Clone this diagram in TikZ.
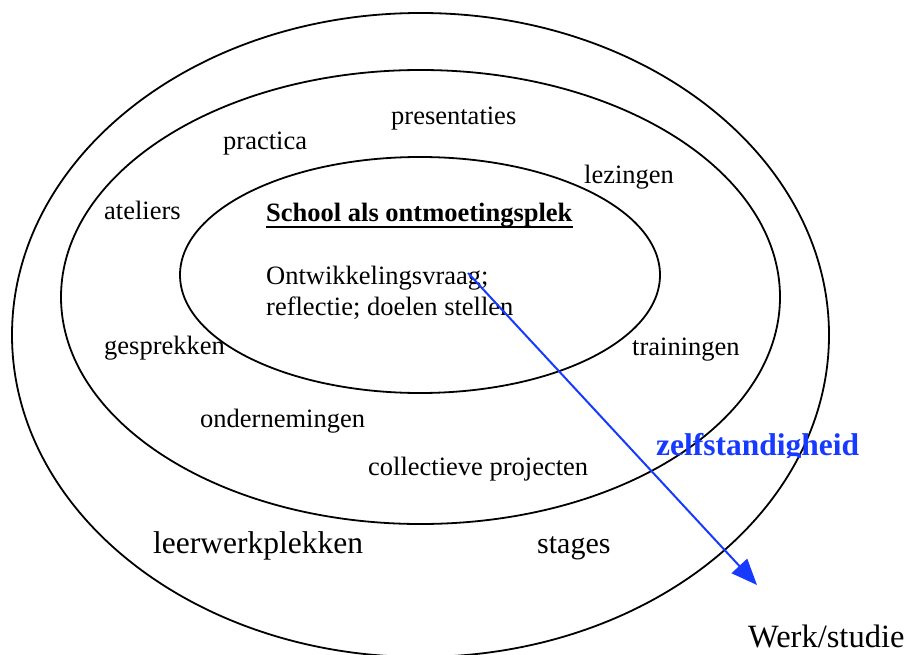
\documentclass[tikz,border=0pt]{standalone}
\usepackage{fontspec}
\setmainfont{Liberation Serif}
\usetikzlibrary{arrows.meta}
\definecolor{arrowblue}{RGB}{22,58,255}
\begin{document}
\begin{tikzpicture}[x=1pt,y=-1pt,
  ring/.style={draw=black,line width=1.8pt},
  lbl/.style={inner sep=0pt,anchor=base west,font=\fontsize{26.5}{27}\selectfont},
  biglbl/.style={inner sep=0pt,anchor=base west,font=\fontsize{31.5}{32}\selectfont},
  growth/.style={draw=arrowblue,line width=2pt,-{Triangle[length=26pt,width=21pt]}}]
\useasboundingbox (0,0) rectangle (910,655);
\clip (0,0) rectangle (910,655);
\fill[white] (0,0) rectangle (910,655);
% ellipses
\draw[ring] (420.5,335) ellipse [x radius=408.5pt, y radius=322pt];
\draw[ring] (420.5,297) ellipse [x radius=359.5pt, y radius=227pt];
\draw[ring] (420,275) ellipse [x radius=240pt, y radius=118pt];
% labels middle ring
\node[lbl] (presentaties) at (391,125) {presentaties};
\node[lbl] (practica) at (223,150) {practica};
\node[lbl] (lezingen) at (584,184) {lezingen};
\node[lbl] (ateliers) at (104,219) {ateliers};
\node[lbl] (gesprekken) at (104,354) {gesprekken};
\node[lbl] (trainingen) at (632,355) {trainingen};
\node[lbl] (ondernemingen) at (200,427) {ondernemingen};
\node[lbl] (collectief) at (368,475) {collectieve projecten};
% inner
\node[lbl,font=\fontsize{26.5}{27}\selectfont\bfseries] (title) at (266,222) {School als ontmoetingsplek};
\draw[line width=2.4pt] ([yshift=-5pt]title.base west) -- ([yshift=-5pt]title.base east);
\node[lbl,align=left,anchor=base west,font=\fontsize{26.5}{31}\selectfont] (vraag) at (266,315) {Ontwikkelingsvraag;\\reflectie; doelen stellen};
% outer ring
\node[biglbl] (leerwerk) at (153,553) {leerwerkplekken};
\node[lbl,font=\fontsize{30}{31}\selectfont] (stages) at (537,553) {stages};
\node[biglbl,font=\fontsize{32.5}{33}\selectfont] (werk) at (748,647) {Werk/studie};
\begin{scope}
\clip (640,420) rectangle (880,457);
\node[biglbl,font=\fontsize{31.5}{32}\selectfont\bfseries,text=arrowblue] (zelf) at (656,455) {zelfstandigheid};
\end{scope}
% arrow
\coordinate (astart) at (468,273);
\coordinate (aend) at (757,585);
\draw[growth] (astart) -- (aend);
\end{tikzpicture}
\end{document}
